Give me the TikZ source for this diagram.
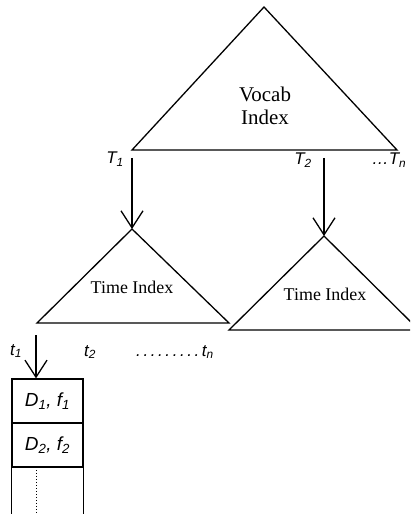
\documentclass[tikz,border=0pt]{standalone}
\usepackage{fontspec}
\setmainfont{Liberation Serif}
\newfontfamily\lblfont{Liberation Sans}
\usetikzlibrary{positioning, arrows.meta}
\newcommand{\lsub}[1]{\textsubscript{#1}}
\newcommand{\pdot}{.\kern2.6bp}

\begin{document}
\begin{tikzpicture}[x=1bp, y=-1bp,
          tri/.style={draw, line width=1.3bp, line join=miter},
          arr/.style={-{Straight Barb[length=17bp, width=22bp]}, line width=1.3bp},
          lbl/.style={font=\lblfont\itshape\fontsize{17}{20}\selectfont, inner sep=0pt},
          idx/.style={font=\fontsize{18}{22}\selectfont, align=center, inner sep=0pt},
          cell/.style={draw, line width=1.3bp, minimum width=71bp, minimum height=44bp,
                       inner sep=0pt, font=\lblfont\itshape\fontsize{19}{22}\selectfont}
        ]
        \clip (0,0) rectangle (410,514);

        % vocab index
        \coordinate (vtop)   at (264,7);
        \coordinate (vleft)  at (132,150);
        \coordinate (vright) at (397,150);
        \draw[tri] (vleft) -- (vtop) -- (vright) -- cycle;
        \node[idx, font=\fontsize{21}{23}\selectfont] (vocab) at (265,106) {Vocab\\Index};

        \node[lbl] (T1) at (115,159) {T\lsub{1}};
        \node[lbl] (T2) at (303,160) {T\lsub{2}};
        \node[lbl] (Tn) at (389,160) {\dots T\lsub{n}};

        % time indexes
        \coordinate (ltop)   at (132,229);
        \coordinate (lleft)  at (37,323);
        \coordinate (lright) at (229,323);
        \draw[tri] (lleft) -- (ltop) -- (lright) -- cycle;
        \node[idx] (ltime) at (132,287) {Time Index};

        \coordinate (rtop)   at (324,236);
        \coordinate (rleft)  at (229,330);
        \coordinate (rright) at (419,330);
        \draw[tri] (rleft) -- (rtop) -- (rright) -- cycle;
        \node[idx] (rtime) at (325,294) {Time Index};

        \coordinate (a1) at (132,158);
        \coordinate (a2) at (324,158);
        \draw[arr] (a1) -- (ltop);
        \draw[arr] (a2) -- (rtop);

        \node[lbl] (t1) at (16,351) {t\lsub{1}};
        \node[lbl] (t2) at (90,352) {t\lsub{2}};
        \node[lbl] (tn) at (175,352) {\pdot\pdot\pdot\pdot\pdot\pdot\pdot\pdot\pdot t\lsub{n}};

        % postings list
        \node[cell] (c1) at (47.5,401) {D\lsub{1}, f\lsub{1}};
        \node[cell] (c2) at (47.5,445) {D\lsub{2}, f\lsub{2}};
        \draw[line width=1.3bp] (c2.south west) -- ++(0,60);
        \draw[line width=1.3bp] (c2.south east) -- ++(0,60);
        \coordinate (dtop) at (36,467);
        \draw[dotted, line width=1bp] (dtop) -- ++(0,60);

        \coordinate (a3) at (36,335);
        \draw[arr] (a3) -- (a3 |- c1.north);
      \end{tikzpicture}
\end{document}
